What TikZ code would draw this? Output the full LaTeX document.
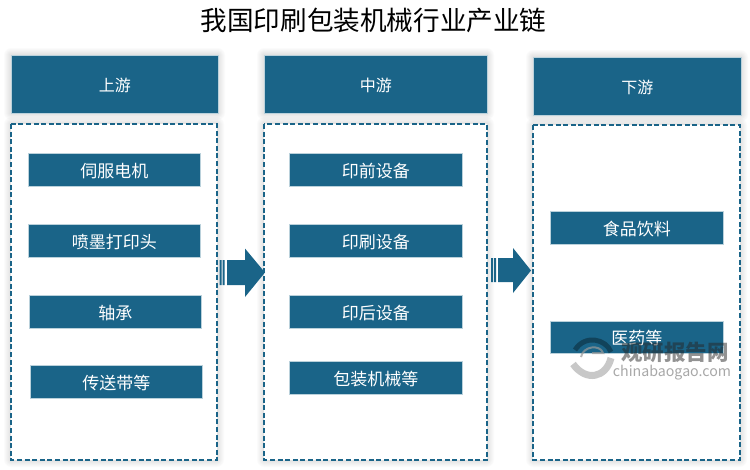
\documentclass[tikz,border=0pt]{standalone}
\usepackage{fontspec}
\setmainfont{Noto Sans CJK SC}
\usetikzlibrary{calc}
\definecolor{teal1}{HTML}{1A6488}
\newcommand{\softshadow}[4]{%
  \foreach \g in {7,6,5,4,3,2,1}{
    \fill[black,opacity=0.014,rounded corners=\g pt] ($(#1,#2)+(-\g,-\g)$) rectangle ($(#3,#4)+(\g,\g)$);
  }}
\tikzset{
  x=1pt,y=-1pt,
  item/.style={fill=teal1,draw=white!70!teal1,line width=0.5pt,text=white,font=\fontsize{17}{17}\selectfont,inner sep=0pt,anchor=north west,text height=16pt,text depth=1pt},
  head/.style={item,font=\fontsize{16}{16}\selectfont},
  frame/.style={draw=teal1,fill=white,line width=1.4pt,dash pattern=on 5pt off 2.6pt},
  blockarrow/.style={fill=teal1,draw=none},
  wm/.style={inner sep=0pt,opacity=0.42,text=black!85}
}
\begin{document}
\begin{tikzpicture}
\useasboundingbox (0,0) rectangle (750,469);
\fill[white] (0,0) rectangle (750,469);
\node[inner sep=0pt,font=\fontsize{26.6}{26.6}\selectfont] (title) at (373.5,20) {我国印刷包装机械行业产业链};
% shadows
\softshadow{11}{55}{218}{113}
\softshadow{264}{55}{487}{113}
\softshadow{533}{57}{741}{115}
\softshadow{11}{124}{217}{460}
\softshadow{264}{124}{487}{460}
\softshadow{533}{125}{740}{460}
% frames
\draw[frame] (11,124) rectangle (217,460);
\draw[frame] (264,124) rectangle (487,460);
\draw[frame] (533,125) rectangle (740,460);
% headers
\node[head,minimum width=207pt,minimum height=58pt] (up) at (11,55) {上游};
\node[head,minimum width=223pt,minimum height=58pt] (mid) at (264,55) {中游};
\node[head,minimum width=208pt,minimum height=58pt] (down) at (533,57) {下游};
% upstream
\node[item,minimum width=172pt,minimum height=33pt] (u1) at (28,153) {伺服电机};
\node[item,minimum width=172pt,minimum height=33pt] (u2) at (28,224) {喷墨打印头};
\node[item,minimum width=172pt,minimum height=33pt] (u3) at (29,295) {轴承};
\node[item,minimum width=172pt,minimum height=33pt] (u4) at (30,365) {传送带等};
% midstream
\node[item,minimum width=173pt,minimum height=33pt] (m1) at (289,153) {印前设备};
\node[item,minimum width=173pt,minimum height=33pt] (m2) at (289,224) {印刷设备};
\node[item,minimum width=173pt,minimum height=33pt] (m3) at (289,295) {印后设备};
\node[item,minimum width=173pt,minimum height=33pt] (m4) at (289,361) {包装机械等};
% downstream
\node[item,minimum width=173pt,minimum height=33pt] (d1) at (550,211) {食品饮料};
\node[item,minimum width=173pt,minimum height=32pt] (d2) at (550,321) {医药等};
% block arrows
\fill[blockarrow] (219.5,260) rectangle (221.5,285) (222.5,260) rectangle (224.5,285)
  (227,260) -- (245,260) -- (245,248.5) -- (265,272.5) -- (245,297) -- (245,285) -- (227,285) -- cycle;
\fill[blockarrow] (491,258) rectangle (493,282) (494,258) rectangle (496,282)
  (498,258) -- (513,258) -- (513,248) -- (531,270.5) -- (513,293) -- (513,282) -- (498,282) -- cycle;
% watermark
\draw[line width=5pt,black!55!teal1,opacity=0.6] (611,352) .. controls (606,339) and (585,334) .. (575,350);
\draw[line width=7pt,black!25!white,opacity=0.85] (573,364) .. controls (586,382) and (606,378) .. (611,358);
\draw[line width=2pt,black!40,opacity=0.7] (581,357) .. controls (583,346) and (600,344) .. (603,353) -- (592,353);
\node[wm,font=\fontsize{21.5}{21.5}\selectfont\bfseries,opacity=0.5] (wm1) at (675,352) {观研报告网};
\node[wm,font=\fontsize{14.2}{14.2}\selectfont,opacity=0.4] (wm2) at (672,373) {chinabaogao.com};
\end{tikzpicture}
\end{document}
